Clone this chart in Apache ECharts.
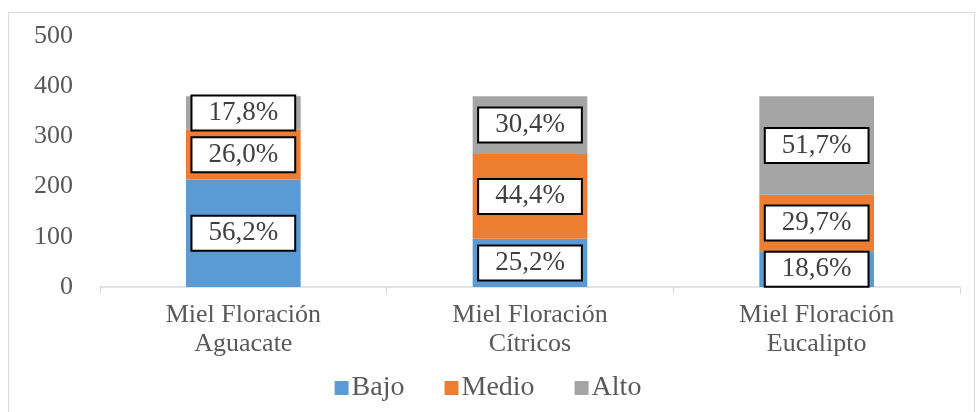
<!DOCTYPE html>
<html>
<head>
<meta charset="utf-8">
<script src="https://cdn.jsdelivr.net/npm/echarts@6/dist/echarts.min.js"></script>
<style>
	html, body { margin: 0; padding: 0; background: #fff; }
	#chart { width: 976px; height: 412px; }
</style>
</head>
<body>
<div id="chart"></div>
<script>
// categorias
var categories = ['Miel Floración\nAguacate', 'Miel Floración\nCítricos', 'Miel Floración\nEucalipto'];
// valores (altura de cada tramo)
var bajo  = [214, 96, 71];
var medio = [99, 169, 113];
var alto  = [67, 115, 196];
// etiquetas de porcentaje
var bajoPct  = ['56,2%', '25,2%', '18,6%'];
var medioPct = ['26,0%', '44,4%', '29,7%'];
var altoPct  = ['17,8%', '30,4%', '51,7%'];
var yTicks = [0, 100, 200, 300, 400, 500];

var font = '"Liberation Serif", "Times New Roman", serif';

function makeLabel(pcts) {
	return {
		show: true,
		position: 'inside',
		formatter: function(p){ return pcts[p.dataIndex]; },
		fontFamily: font,
		fontSize: 27,
		color: '#404040',
		backgroundColor: '#fff',
		borderColor: '#000',
		borderWidth: 2,
		padding: [4, 16, 2, 16]
	};
}

function makeSeries(name, data, pcts, color) {
	return {
		name: name,
		type: 'bar',
		stack: 'total',
		barWidth: '40%',
		data: data,
		itemStyle: { color: color },
		label: makeLabel(pcts),
		emphasis: { disabled: true }
	};
}

var chart = echarts.init(document.getElementById('chart'), null, { renderer: 'canvas' });
var option = {
	animation: false,
	backgroundColor: '#fff',
	grid: { left: 100, right: 16, top: 36, bottom: 125 },
	graphic: [{
		type: 'rect',
		shape: { x: 8.5, y: 12.5, width: 966, height: 420 },
		style: { fill: 'none', stroke: '#d9d9d9', lineWidth: 1 },
		silent: true
	}],
	legend: {
		bottom: 5,
		left: 'center',
		itemWidth: 14,
		itemHeight: 14,
		itemGap: 40,
		icon: 'rect',
		textStyle: { fontFamily: font, fontSize: 28, color: '#595959', padding: [0, 0, 0, -2] },
		data: ['Bajo', 'Medio', 'Alto']
	},
	xAxis: {
		type: 'category',
		data: categories,
		axisLine: { lineStyle: { color: '#d9d9d9', width: 1.5 } },
		axisTick: { show: true, length: 7, lineStyle: { color: '#d9d9d9' } },
		axisLabel: { fontFamily: font, fontSize: 26, color: '#595959', lineHeight: 29, margin: 14 }
	},
	yAxis: {
		type: 'value',
		min: yTicks[0],
		max: yTicks[yTicks.length - 1],
		interval: 100,
		axisLine: { show: false },
		axisTick: { show: false },
		splitLine: { show: false },
		axisLabel: { fontFamily: font, fontSize: 26, color: '#595959', margin: 27 }
	},
	series: [
		makeSeries('Bajo', bajo, bajoPct, '#5b9bd5'),
		makeSeries('Medio', medio, medioPct, '#ed7d31'),
		makeSeries('Alto', alto, altoPct, '#a5a5a5')
	]
};
chart.setOption(option);
</script>
</body>
</html>
